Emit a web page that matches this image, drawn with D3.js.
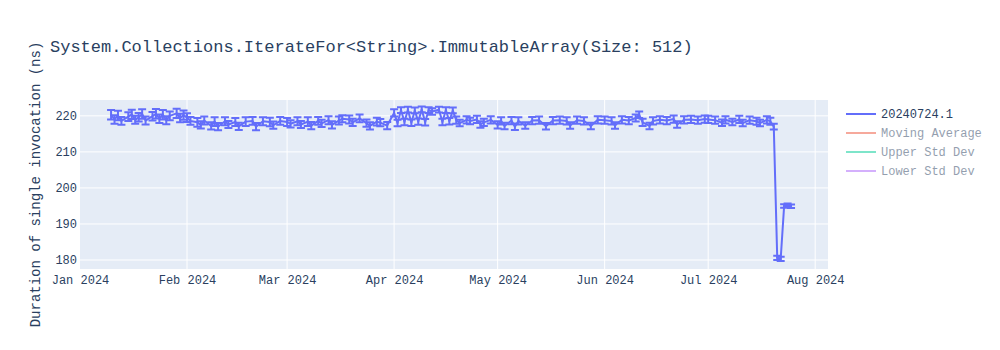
<!DOCTYPE html>
<html>
<head>
<meta charset="utf-8">
<script src="https://cdn.jsdelivr.net/npm/d3@7"></script>
<style>
  body { margin: 0; background: #fff; }
  svg text { font-family: "Liberation Mono", "Courier New", monospace; fill: #2a3f5f; }
</style>
</head>
<body>
<svg id="chart"></svg>
<script>
// benchmark runs (one row per run)
const runDates = [
  "2024-01-10","2024-01-11","2024-01-12","2024-01-13","2024-01-15","2024-01-16","2024-01-17","2024-01-18","2024-01-19","2024-01-20",
  "2024-01-22","2024-01-23","2024-01-24","2024-01-25","2024-01-26","2024-01-27","2024-01-29","2024-01-30","2024-01-31",
  "2024-02-01","2024-02-02","2024-02-04","2024-02-05","2024-02-06","2024-02-08","2024-02-09","2024-02-10","2024-02-12","2024-02-13",
  "2024-02-15","2024-02-16","2024-02-18","2024-02-20","2024-02-21","2024-02-23","2024-02-25","2024-02-26","2024-02-28",
  "2024-03-01","2024-03-02","2024-03-04","2024-03-05","2024-03-07","2024-03-08","2024-03-10","2024-03-11","2024-03-13","2024-03-14",
  "2024-03-16","2024-03-17","2024-03-19","2024-03-20","2024-03-22","2024-03-24","2024-03-25","2024-03-27","2024-03-28","2024-03-30",
  "2024-04-01","2024-04-02","2024-04-03","2024-04-04","2024-04-05","2024-04-06","2024-04-07","2024-04-08","2024-04-09","2024-04-10",
  "2024-04-11","2024-04-12","2024-04-14","2024-04-15","2024-04-16","2024-04-17","2024-04-18",
  "2024-04-19","2024-04-20","2024-04-22","2024-04-23","2024-04-25","2024-04-26","2024-04-27","2024-04-29",
  "2024-05-01","2024-05-02","2024-05-03","2024-05-05","2024-05-06","2024-05-07","2024-05-09","2024-05-11","2024-05-13","2024-05-15",
  "2024-05-17","2024-05-19","2024-05-21","2024-05-22","2024-05-24","2024-05-26","2024-05-28","2024-05-30",
  "2024-06-01","2024-06-03","2024-06-04","2024-06-06","2024-06-08","2024-06-10","2024-06-11","2024-06-12","2024-06-14","2024-06-15",
  "2024-06-17","2024-06-19","2024-06-21","2024-06-22","2024-06-24","2024-06-26","2024-06-28","2024-06-30",
  "2024-07-01","2024-07-03","2024-07-05","2024-07-06","2024-07-08","2024-07-10","2024-07-11","2024-07-13","2024-07-15","2024-07-16",
  "2024-07-18","2024-07-19","2024-07-20","2024-07-21","2024-07-22","2024-07-23","2024-07-24","2024-07-25"
];
const means = [
  220.3,219.0,220.1,218.6,219.8,220.4,218.9,219.6,220.5,218.7,
  219.9,220.6,219.2,220.3,218.8,220.0,220.7,219.4,220.2,
  219.5,218.6,218.2,217.5,218.7,217.2,218.4,217.0,218.5,217.6,
  218.3,217.1,218.4,218.6,217.0,218.5,218.3,217.4,218.6,
  218.3,217.8,218.5,217.6,218.4,217.3,218.6,217.9,218.8,217.5,
  218.7,219.2,219.0,218.2,219.3,218.0,217.2,218.4,218.1,217.3,
  220.8,218.0,221.6,218.3,221.7,218.1,221.5,218.4,221.8,218.2,
  221.6,221.2,221.7,218.3,221.6,218.5,221.5,
  218.8,218.0,218.9,218.6,219.0,217.6,218.2,218.9,
  217.5,218.6,217.2,218.7,217.0,218.6,217.3,218.7,218.8,217.1,
  218.7,218.8,218.6,217.3,218.8,218.6,217.2,218.9,
  218.8,218.6,217.3,218.9,218.7,219.4,220.3,218.2,217.2,218.6,
  218.9,218.7,219.1,217.6,218.9,219.0,218.8,219.1,
  219.0,218.8,218.1,218.9,218.3,219.0,218.0,218.8,218.5,218.0,
  218.9,218.5,217.0,180.6,180.3,195.0,195.2,194.9
];
const errors = [
  1.3,1.2,1.3,1.1,1.2,1.3,1.1,1.2,1.3,1.1,
  1.2,1.3,1.2,1.3,1.1,1.2,1.3,1.2,1.3,
  1.2,1.1,1.2,1.0,1.1,1.0,1.2,1.0,1.1,1.0,
  1.1,1.0,1.2,1.1,1.0,1.1,1.2,1.0,1.1,
  1.1,1.0,1.1,1.0,1.2,1.0,1.1,1.0,1.1,1.0,
  1.1,1.0,1.1,1.0,1.1,1.0,1.0,1.1,1.0,1.0,
  1.0,0.9,0.8,0.9,0.8,0.9,0.8,0.9,0.8,0.9,
  0.8,0.9,0.8,0.9,0.8,0.9,0.8,
  1.0,0.9,1.0,0.9,1.0,0.9,1.0,1.0,
  1.0,1.0,0.9,1.0,0.9,1.0,0.9,1.0,1.0,0.9,
  1.0,1.0,1.0,0.9,1.0,1.0,0.9,1.0,
  1.0,1.0,0.9,1.0,1.0,1.0,0.9,1.0,0.9,1.0,
  1.0,1.0,1.0,0.9,1.0,1.0,1.0,1.0,
  1.0,1.0,0.9,1.0,0.9,1.0,0.9,1.0,1.0,0.9,
  1.0,1.0,0.8,0.6,0.6,0.5,0.5,0.5
];
const yTicks = [180, 190, 200, 210, 220];
const legendNames = ["20240724.1", "Moving Average", "Upper Std Dev", "Lower Std Dev"];
const legendColors = ["#636efa", "#EF553B", "#00cc96", "#ab63fa"];
const legendVisible = [true, false, false, false];

const chartTitle = "System.Collections.IterateFor<String>.ImmutableArray(Size: 512)";
const yTitle = "Duration of single invocation (ns)";

const width = 1000, height = 350;
const marginLeft = 80, marginRight = 172, marginTop = 100, marginBottom = 81;
const plotW = width - marginLeft - marginRight;
const plotH = height - marginTop - marginBottom;

const svg = d3.select("#chart").attr("width", width).attr("height", height);

const runs = runDates.map((d, i) => ({ date: new Date(d + "T00:00:00Z"), mean: means[i], err: errors[i] }));

const x = d3.scaleUtc()
  .domain([new Date(Date.UTC(2024, 0, 1)), new Date(Date.UTC(2024, 7, 4, 17))])
  .range([marginLeft, marginLeft + plotW]);
const y = d3.scaleLinear()
  .domain([177.5, 224.4])
  .range([marginTop + plotH, marginTop]);

// plot background
svg.append("rect")
  .attr("x", marginLeft).attr("y", marginTop)
  .attr("width", plotW).attr("height", plotH)
  .attr("fill", "#e5ecf6");

const monthTicks = d3.utcMonth.range(new Date(Date.UTC(2024, 0, 1)), new Date(Date.UTC(2024, 7, 2)));

// grid
svg.append("g")
  .selectAll("line")
  .data(monthTicks.filter(d => x(d) > marginLeft + 1))
  .join("line")
  .attr("x1", d => x(d)).attr("x2", d => x(d))
  .attr("y1", marginTop).attr("y2", marginTop + plotH)
  .attr("stroke", "#fff").attr("stroke-width", 1);
svg.append("g")
  .selectAll("line")
  .data(yTicks)
  .join("line")
  .attr("x1", marginLeft).attr("x2", marginLeft + plotW)
  .attr("y1", d => y(d)).attr("y2", d => y(d))
  .attr("stroke", "#fff").attr("stroke-width", 1);

// axes
const xAxis = svg.append("g")
  .attr("transform", `translate(0,${marginTop + plotH})`)
  .call(d3.axisBottom(x).tickValues(monthTicks).tickFormat(d3.utcFormat("%b %Y")).tickSize(0).tickPadding(6));
xAxis.select(".domain").remove();
xAxis.selectAll("text").attr("font-size", 12).attr("fill", "#2a3f5f")
  .style("font-family", '"Liberation Mono", "Courier New", monospace');

const yAxis = svg.append("g")
  .attr("transform", `translate(${marginLeft},0)`)
  .call(d3.axisLeft(y).tickValues(yTicks).tickSize(0).tickPadding(3));
yAxis.select(".domain").remove();
yAxis.selectAll("text").attr("font-size", 12).attr("fill", "#2a3f5f")
  .style("font-family", '"Liberation Mono", "Courier New", monospace');

// clip
svg.append("clipPath").attr("id", "plotclip")
  .append("rect").attr("x", marginLeft).attr("y", marginTop).attr("width", plotW).attr("height", plotH);

const series = svg.append("g").attr("clip-path", "url(#plotclip)");

// error bars
const capHalf = 4;
const eb = series.append("g")
  .selectAll("path")
  .data(runs)
  .join("path")
  .attr("d", d => {
    const px = x(d.date), top = y(d.mean + d.err), bot = y(d.mean - d.err);
    return `M${px},${top}V${bot}M${px - capHalf},${top}h${2 * capHalf}M${px - capHalf},${bot}h${2 * capHalf}`;
  })
  .attr("fill", "none")
  .attr("stroke", "#636efa")
  .attr("stroke-width", 2);

// line
const line = d3.line().x(d => x(d.date)).y(d => y(d.mean));
series.append("path")
  .datum(runs)
  .attr("d", line)
  .attr("fill", "none")
  .attr("stroke", "#636efa")
  .attr("stroke-width", 2)
  .attr("stroke-linejoin", "round");

// title
svg.append("text")
  .attr("x", 50).attr("y", 52)
  .attr("font-size", 17)
  .text(chartTitle);

svg.append("text")
  .attr("transform", `translate(40,${marginTop + plotH / 2}) rotate(-90)`)
  .attr("text-anchor", "middle")
  .attr("font-size", 14)
  .text(yTitle);

// legend
const legend = svg.append("g")
  .selectAll("g")
  .data(legendNames)
  .join("g")
  .attr("transform", (d, i) => `translate(846,${114 + i * 19})`)
  .attr("opacity", (d, i) => legendVisible[i] ? 1 : 0.5);
legend.append("line")
  .attr("x1", 0).attr("x2", 30)
  .attr("stroke", (d, i) => legendColors[i])
  .attr("stroke-width", 2);
legend.append("text")
  .attr("x", 35).attr("dy", "0.35em")
  .attr("font-size", 12)
  .text(d => d);
</script>
</body>
</html>
